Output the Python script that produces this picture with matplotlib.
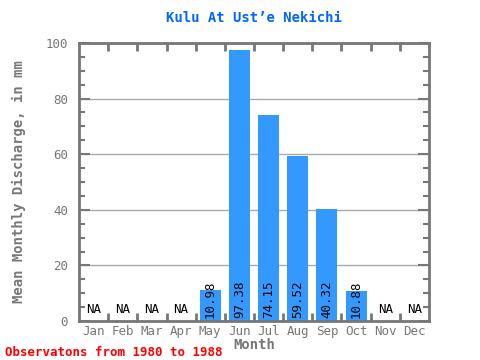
import matplotlib
matplotlib.use("Agg")
import matplotlib.pyplot as plt
from matplotlib.ticker import MultipleLocator

months = ["Jan", "Feb", "Mar", "Apr", "May", "Jun", "Jul", "Aug", "Sep", "Oct", "Nov", "Dec"]
values = [None, None, None, None, 10.98, 97.38, 74.15, 59.52, 40.32, 10.88, None, None]

plt.rcParams['font.family'] = ['DejaVu Sans Mono']
gray = "#777777"

fig = plt.figure(figsize=(4.8, 3.6), dpi=100)
ax = fig.add_axes([79 / 480, 1 - 321 / 360, 350 / 480, 278 / 360])

xs = list(range(12))
for x, v in zip(xs, values):
    if v is None:
        ax.text(x, 4, "NA", ha="center", va="center", fontsize=9, color="black")
    else:
        ax.bar(x, v, width=0.72, color="#3399FF", zorder=2)
        ax.text(x, 1.0, "%.2f" % v, rotation=90, ha="center", va="bottom",
                fontsize=9, color="black", zorder=3)

ax.set_xlim(-0.5, 11.5)
ax.set_ylim(0, 100)
ax.set_xticks(xs)
ax.set_xticklabels(months, fontsize=9, color=gray)
ax.set_xticks([i + 0.5 for i in range(11)], minor=True)
ax.tick_params(axis="x", which="major", length=0, pad=3)
ax.tick_params(axis="x", which="minor", direction="in", length=6, width=2,
               color=gray, top=True, bottom=True)

ax.yaxis.set_major_locator(MultipleLocator(20))
ax.yaxis.set_minor_locator(MultipleLocator(5))
ax.tick_params(axis="y", which="major", direction="in", length=8, width=1.5,
               color=gray, labelcolor=gray, labelsize=9, left=True, right=True, pad=8)
ax.tick_params(axis="y", which="minor", direction="in", length=4, width=1.5,
               color=gray, left=True, right=True)
ax.grid(axis="y", which="major", color="#aaaaaa", linewidth=1, zorder=1)
ax.set_axisbelow(True)

for s in ax.spines.values():
    s.set_color(gray)
    s.set_linewidth(2)

ax.set_title("Kulu At Ust\u2019e Nekichi", color="#0066FF", fontsize=10,
             fontweight="bold", pad=15)
ax.set_xlabel("Month", color=gray, fontsize=10, fontweight="bold", labelpad=0)
ax.set_ylabel("Mean Monthly Discharge, in mm", color=gray, fontsize=10,
              fontweight="bold", labelpad=14)

fig.text(5 / 480, 1 - 352 / 360, "Observatons from 1980 to 1988", color="red",
         fontsize=9, fontweight="bold", va="center", ha="left")

fig.savefig("out.png", dpi=100)
